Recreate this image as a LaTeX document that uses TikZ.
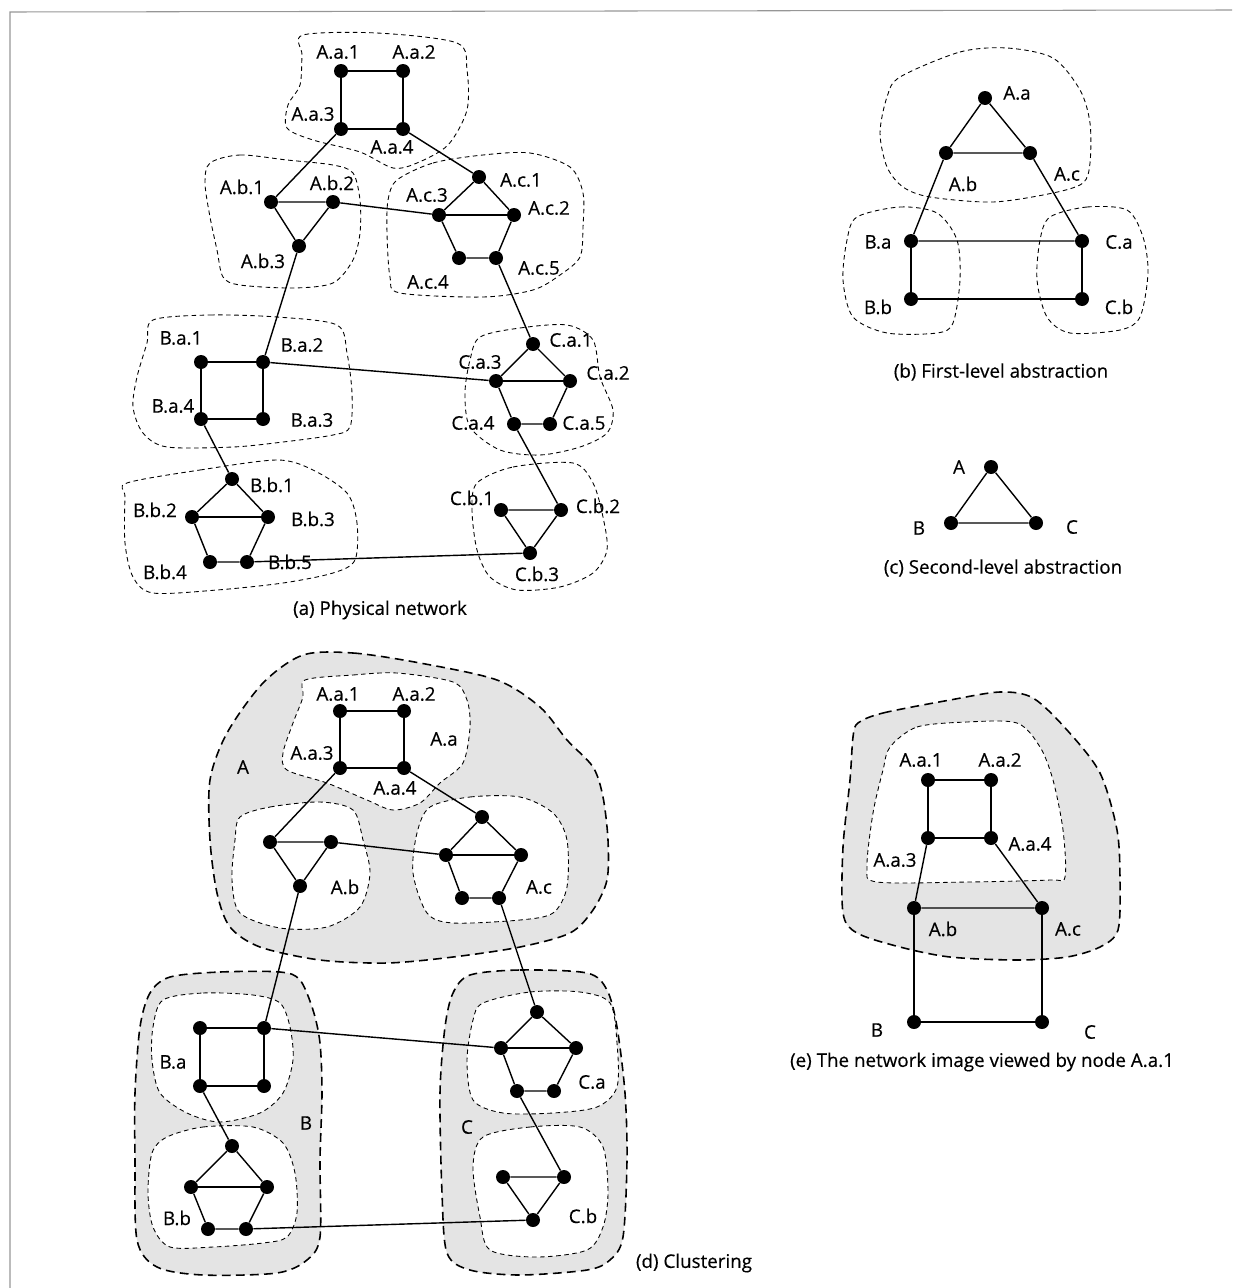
\documentclass[tikz,border=0pt]{standalone}
\usepackage{fontspec}
\setmainfont{Open Sans}[FakeBold=0.4]
\begin{document}
\begin{tikzpicture}[x=0.02cm,y=-0.02cm,
    dot/.style={shape=circle,fill=black,inner sep=0pt,minimum size=0.28cm},
    lbl/.style={font=\fontsize{10.7}{12}\selectfont,inner sep=0pt},
    link/.style={line width=0.8pt},
    grp/.style={draw,dash pattern=on 2.6pt off 2pt,line width=0.5pt},
    region/.style={draw,dash pattern=on 5pt off 3pt,line width=0.9pt,fill=clusterfill},
    hole/.style={grp,fill=white}]
    \definecolor{clusterfill}{RGB}{228,228,228}
    \definecolor{framegray}{RGB}{150,150,150}
    \useasboundingbox (0,0) rectangle (1259,1288);
    \draw[framegray,line width=0.6pt] (10,1288) -- (10,12) -- (1232,10);

    \draw[grp] plot[smooth cycle] coordinates {(303,35) (377,33) (457,43) (467,70) (467,110) (448,145) (417,163) (393,168) (360,152) (313,140) (287,128) (288,105) (300,85) (302,55)};
    \draw[grp] plot[smooth cycle] coordinates {(210,163) (240,155) (287,160) (333,165) (353,173) (360,200) (360,233) (353,260) (333,283) (293,288) (240,285) (223,277) (217,250) (210,217) (205,183)};
    \draw[grp] plot[smooth cycle] coordinates {(397,180) (433,163) (483,155) (530,153) (570,167) (583,193) (583,227) (580,257) (560,275) (533,290) (483,297) (400,293) (390,277) (387,233) (388,200)};
    \draw[grp] plot[smooth cycle] coordinates {(153,320) (210,315) (277,317) (337,325) (347,353) (352,393) (350,427) (333,435) (283,442) (233,447) (167,447) (143,433) (133,407) (137,377) (147,343)};
    \draw[grp] plot[smooth cycle] coordinates {(127,483) (200,470) (277,460) (313,470) (347,493) (357,523) (355,560) (333,573) (283,583) (217,590) (153,593) (133,577) (125,543) (125,497)};
    \draw[grp] plot[smooth cycle] coordinates {(480,337) (520,328) (567,325) (593,340) (600,377) (613,410) (607,433) (580,447) (540,455) (500,450) (470,427) (465,393) (470,360)};
    \draw[grp] plot[smooth cycle] coordinates {(477,483) (513,467) (573,463) (593,483) (603,517) (607,550) (593,573) (560,587) (517,590) (490,577) (477,550) (472,510)};

    \draw[grp] plot[smooth cycle] coordinates {(900,77) (960,52) (1007,48) (1053,58) (1080,90) (1090,123) (1090,163) (1083,183) (1053,193) (993,202) (930,197) (903,187) (887,167) (880,133) (887,97)};
    \draw[grp] plot[smooth cycle] coordinates {(857,217) (900,207) (937,213) (957,240) (960,280) (953,323) (937,333) (887,333) (853,317) (843,280) (847,240)};
    \draw[grp] plot[smooth cycle] coordinates {(1050,217) (1087,207) (1127,210) (1143,237) (1148,273) (1140,317) (1120,330) (1070,333) (1047,317) (1037,280) (1040,240)};

    \draw[region] plot[smooth cycle] coordinates {(303,655) (353,653) (420,663) (497,680) (540,707) (567,740) (593,767) (603,797) (608,840) (607,880) (593,910) (570,933) (520,947) (453,957) (387,963) (320,960) (260,947) (230,927) (217,893) (210,840) (210,780) (227,733) (263,683)};
    \draw[region] plot[smooth cycle] coordinates {(170,977) (220,972) (280,972) (300,980) (313,1010) (320,1043) (322,1093) (320,1160) (320,1237) (307,1260) (277,1273) (203,1275) (157,1267) (137,1240) (135,1160) (135,1093) (140,1027) (150,993)};
    \draw[region] plot[smooth cycle] coordinates {(470,975) (520,970) (587,973) (607,990) (617,1027) (625,1093) (627,1160) (623,1237) (610,1260) (587,1270) (520,1275) (470,1270) (447,1253) (442,1193) (440,1093) (445,1027) (453,993)};
    \draw[hole] plot[smooth cycle] coordinates {(305,680) (353,675) (397,673) (453,682) (467,700) (470,727) (463,763) (440,783) (420,803) (393,810) (367,800) (327,783) (287,770) (283,753) (293,723) (303,697)};
    \draw[hole] plot[smooth cycle] coordinates {(240,817) (270,807) (320,802) (353,810) (363,840) (370,873) (360,907) (327,927) (280,928) (240,913) (232,880) (235,840)};
    \draw[hole] plot[smooth cycle] coordinates {(430,807) (470,797) (520,797) (553,813) (567,840) (567,887) (553,913) (520,920) (453,923) (427,913) (413,873) (417,833)};
    \draw[hole] plot[smooth cycle] coordinates {(163,1000) (203,993) (253,995) (280,1003) (290,1027) (293,1060) (283,1093) (260,1113) (220,1122) (187,1113) (160,1093) (152,1060) (153,1027)};
    \draw[hole] plot[smooth cycle] coordinates {(167,1137) (203,1127) (253,1127) (283,1143) (295,1173) (297,1213) (287,1237) (263,1243) (213,1247) (170,1247) (153,1227) (148,1193) (152,1153)};
    \draw[hole] plot[smooth cycle] coordinates {(483,1003) (530,992) (580,992) (610,1003) (617,1043) (617,1087) (597,1107) (553,1113) (503,1113) (473,1100) (467,1060) (473,1020)};
    \draw[hole] plot[smooth cycle] coordinates {(483,1137) (530,1127) (580,1127) (603,1147) (608,1193) (603,1227) (587,1250) (537,1257) (490,1250) (480,1217) (473,1167)};

    \draw[region] plot[smooth cycle] coordinates {(858,723) (883,713) (950,700) (1000,692) (1033,698) (1067,730) (1100,773) (1117,830) (1120,880) (1118,930) (1100,947) (1067,957) (1017,960) (950,957) (900,947) (857,933) (843,913) (843,847) (850,780) (853,737)};
    \draw[hole] plot[smooth cycle] coordinates {(890,747) (917,727) (967,722) (1017,723) (1040,747) (1053,780) (1063,830) (1065,877) (1050,880) (967,882) (877,882) (867,867) (873,813) (883,770)};

    \node[dot] (aAa1) at (341,71) {};
    \node[dot] (aAa2) at (403,71) {};
    \node[dot] (aAa3) at (341,129) {};
    \node[dot] (aAa4) at (403,129) {};
    \node[dot] (aAb1) at (271,202) {};
    \node[dot] (aAb2) at (333,202) {};
    \node[dot] (aAb3) at (299,246) {};
    \node[dot] (aAc1) at (479,177) {};
    \node[dot] (aAc2) at (514,215) {};
    \node[dot] (aAc3) at (439,215) {};
    \node[dot] (aAc4) at (459,258) {};
    \node[dot] (aAc5) at (496,258) {};
    \node[dot] (aBa1) at (201,362) {};
    \node[dot] (aBa2) at (263,362) {};
    \node[dot] (aBa3) at (263,419) {};
    \node[dot] (aBa4) at (201,419) {};
    \node[dot] (aBb1) at (232,479) {};
    \node[dot] (aBb2) at (192,517) {};
    \node[dot] (aBb3) at (268,517) {};
    \node[dot] (aBb4) at (210,562) {};
    \node[dot] (aBb5) at (247,562) {};
    \node[dot] (aCa1) at (533,344) {};
    \node[dot] (aCa2) at (570,381) {};
    \node[dot] (aCa3) at (496,381) {};
    \node[dot] (aCa4) at (514,424) {};
    \node[dot] (aCa5) at (550,424) {};
    \node[dot] (aCb1) at (501,510) {};
    \node[dot] (aCb2) at (561,510) {};
    \node[dot] (aCb3) at (530,553) {};

    \node[dot] (dAa1) at (340,711) {};
    \node[dot] (dAa2) at (404,711) {};
    \node[dot] (dAa3) at (340,768) {};
    \node[dot] (dAa4) at (404,768) {};
    \node[dot] (dAb1) at (270,842) {};
    \node[dot] (dAb2) at (331,842) {};
    \node[dot] (dAb3) at (300,886) {};
    \node[dot] (dAc1) at (482,817) {};
    \node[dot] (dAc2) at (521,855) {};
    \node[dot] (dAc3) at (446,855) {};
    \node[dot] (dAc4) at (462,898) {};
    \node[dot] (dAc5) at (499,898) {};
    \node[dot] (dBa1) at (200,1028) {};
    \node[dot] (dBa2) at (264,1028) {};
    \node[dot] (dBa3) at (264,1086) {};
    \node[dot] (dBa4) at (200,1086) {};
    \node[dot] (dBb1) at (232,1146) {};
    \node[dot] (dBb2) at (191,1187) {};
    \node[dot] (dBb3) at (267,1187) {};
    \node[dot] (dBb4) at (208,1229) {};
    \node[dot] (dBb5) at (246,1229) {};
    \node[dot] (dCa1) at (537,1012) {};
    \node[dot] (dCa2) at (576,1048) {};
    \node[dot] (dCa3) at (501,1048) {};
    \node[dot] (dCa4) at (517,1091) {};
    \node[dot] (dCa5) at (554,1091) {};
    \node[dot] (dCb1) at (503,1177) {};
    \node[dot] (dCb2) at (564,1177) {};
    \node[dot] (dCb3) at (533,1220) {};

    \foreach \p in {a,d} {
        \draw[link] (\p Aa1) -- (\p Aa2) -- (\p Aa4) -- (\p Aa3) -- (\p Aa1);
        \draw[link] (\p Aa3) -- (\p Ab1) -- (\p Ab2) -- (\p Ab3) -- (\p Ab1);
        \draw[link] (\p Aa4) -- (\p Ac1) -- (\p Ac2) -- (\p Ac5) -- (\p Ac4) -- (\p Ac3) -- (\p Ac1);
        \draw[link] (\p Ac3) -- (\p Ac2);
        \draw[link] (\p Ab2) -- (\p Ac3);
        \draw[link] (\p Ab3) -- (\p Ba2);
        \draw[link] (\p Ac5) -- (\p Ca1);
        \draw[link] (\p Ba1) -- (\p Ba2) -- (\p Ba3) -- (\p Ba4) -- (\p Ba1);
        \draw[link] (\p Ba2) -- (\p Ca3);
        \draw[link] (\p Ba4) -- (\p Bb1) -- (\p Bb3) -- (\p Bb5) -- (\p Bb4) -- (\p Bb2) -- (\p Bb1);
        \draw[link] (\p Bb2) -- (\p Bb3);
        \draw[link] (\p Bb5) -- (\p Cb3);
        \draw[link] (\p Ca1) -- (\p Ca2) -- (\p Ca5) -- (\p Ca4) -- (\p Ca3) -- (\p Ca1);
        \draw[link] (\p Ca3) -- (\p Ca2);
        \draw[link] (\p Ca4) -- (\p Cb2);
        \draw[link] (\p Cb1) -- (\p Cb2) -- (\p Cb3) -- (\p Cb1);
    }

    \node[lbl] (laAa1) at (338,52) {A.a.1};
    \node[lbl] (laAa2) at (414,52) {A.a.2};
    \node[lbl] (laAa3) at (313,114) {A.a.3};
    \node[lbl] (laAa4) at (392,147) {A.a.4};
    \node[lbl] (laAb1) at (242,187) {A.b.1};
    \node[lbl] (laAb2) at (332,183) {A.b.2};
    \node[lbl] (laAb3) at (263,261) {A.b.3};
    \node[lbl] (laAc1) at (521,180) {A.c.1};
    \node[lbl] (laAc2) at (549,208) {A.c.2};
    \node[lbl] (laAc3) at (427,195) {A.c.3};
    \node[lbl] (laAc4) at (428,282) {A.c.4};
    \node[lbl] (laAc5) at (539,268) {A.c.5};
    \node[lbl] (laBa1) at (181,338) {B.a.1};
    \node[lbl] (laBa2) at (302,345) {B.a.2};
    \node[lbl] (laBa3) at (312,420) {B.a.3};
    \node[lbl] (laBa4) at (173,406) {B.a.4};
    \node[lbl] (laBb1) at (272,485) {B.b.1};
    \node[lbl] (laBb2) at (155,510) {B.b.2};
    \node[lbl] (laBb3) at (313,519) {B.b.3};
    \node[lbl] (laBb4) at (165,572) {B.b.4};
    \node[lbl] (laBb5) at (290,562) {B.b.5};
    \node[lbl] (laCa1) at (571,340) {C.a.1};
    \node[lbl] (laCa2) at (608,373) {C.a.2};
    \node[lbl] (laCa3) at (480,362) {C.a.3};
    \node[lbl] (laCa4) at (473,423) {C.a.4};
    \node[lbl] (laCa5) at (584,423) {C.a.5};
    \node[lbl] (laCb1) at (472,498) {C.b.1};
    \node[lbl] (laCb2) at (598,506) {C.b.2};
    \node[lbl] (laCb3) at (537,574) {C.b.3};
    \node[lbl] (capa) at (380,610) {(a) Physical network};

    \node[dot] (bAa) at (985,98) {};
    \node[dot] (bAb) at (946,153) {};
    \node[dot] (bAc) at (1030,153) {};
    \node[dot] (bBa) at (911,241) {};
    \node[dot] (bCa) at (1082,241) {};
    \node[dot] (bBb) at (911,299) {};
    \node[dot] (bCb) at (1082,299) {};
    \draw[link] (bAa) -- (bAb) -- (bAc) -- (bAa);
    \draw[link] (bAb) -- (bBa) -- (bCa) -- (bAc);
    \draw[link] (bBa) -- (bBb) -- (bCb) -- (bCa);
    \node[lbl] (lbAa) at (1017,93) {A.a};
    \node[lbl] (lbAb) at (963,184) {A.b};
    \node[lbl] (lbAc) at (1067,174) {A.c};
    \node[lbl] (lbBa) at (878,242) {B.a};
    \node[lbl] (lbCa) at (1119,242) {C.a};
    \node[lbl] (lbBb) at (878,307) {B.b};
    \node[lbl] (lbCb) at (1119,307) {C.b};
    \node[lbl] (capb) at (1001,372) {(b) First-level abstraction};

    \node[dot] (cA) at (991,467) {};
    \node[dot] (cB) at (951,523) {};
    \node[dot] (cC) at (1036,523) {};
    \draw[link] (cA) -- (cB) -- (cC) -- (cA);
    \node[lbl] (lcA) at (959,467) {A};
    \node[lbl] (lcB) at (919,528) {B};
    \node[lbl] (lcC) at (1072,527) {C};
    \node[lbl] (capc) at (1003,568) {(c) Second-level abstraction};

    \node[lbl] (ldAa1) at (338,694) {A.a.1};
    \node[lbl] (ldAa2) at (414,694) {A.a.2};
    \node[lbl] (ldAa3) at (312,753) {A.a.3};
    \node[lbl] (ldAa4) at (395,788) {A.a.4};
    \node[lbl] (ldAa) at (444,739) {A.a};
    \node[lbl] (ldA) at (243,767) {A};
    \node[lbl] (ldAb) at (345,887) {A.b};
    \node[lbl] (ldAc) at (539,887) {A.c};
    \node[lbl] (ldBa) at (173,1062) {B.a};
    \node[lbl] (ldB) at (306,1123) {B};
    \node[lbl] (ldBb) at (177,1218) {B.b};
    \node[lbl] (ldCa) at (592,1082) {C.a};
    \node[lbl] (ldC) at (467,1127) {C};
    \node[lbl] (ldCb) at (583,1216) {C.b};
    \node[lbl] (capd) at (694,1263) {(d) Clustering};

    \node[dot] (eAa1) at (928,780) {};
    \node[dot] (eAa2) at (991,780) {};
    \node[dot] (eAa3) at (928,838) {};
    \node[dot] (eAa4) at (991,838) {};
    \node[dot] (eAb) at (914,908) {};
    \node[dot] (eAc) at (1042,908) {};
    \node[dot] (eB) at (914,1022) {};
    \node[dot] (eC) at (1042,1022) {};
    \draw[link] (eAa1) -- (eAa2) -- (eAa4) -- (eAa3) -- (eAa1);
    \draw[link] (eAa3) -- (eAb) -- (eAc) -- (eAa4);
    \draw[link] (eAb) -- (eB) -- (eC) -- (eAc);
    \node[lbl] (leAa1) at (921,760) {A.a.1};
    \node[lbl] (leAa2) at (1000,760) {A.a.2};
    \node[lbl] (leAa3) at (895,860) {A.a.3};
    \node[lbl] (leAa4) at (1030,844) {A.a.4};
    \node[lbl] (leAb) at (943,929) {A.b};
    \node[lbl] (leAc) at (1068,929) {A.c};
    \node[lbl] (leB) at (877,1030) {B};
    \node[lbl] (leC) at (1090,1032) {C};
    \node[lbl] (cape) at (982,1062) {(e) The network image viewed by node A.a.1};
\end{tikzpicture}
\end{document}
